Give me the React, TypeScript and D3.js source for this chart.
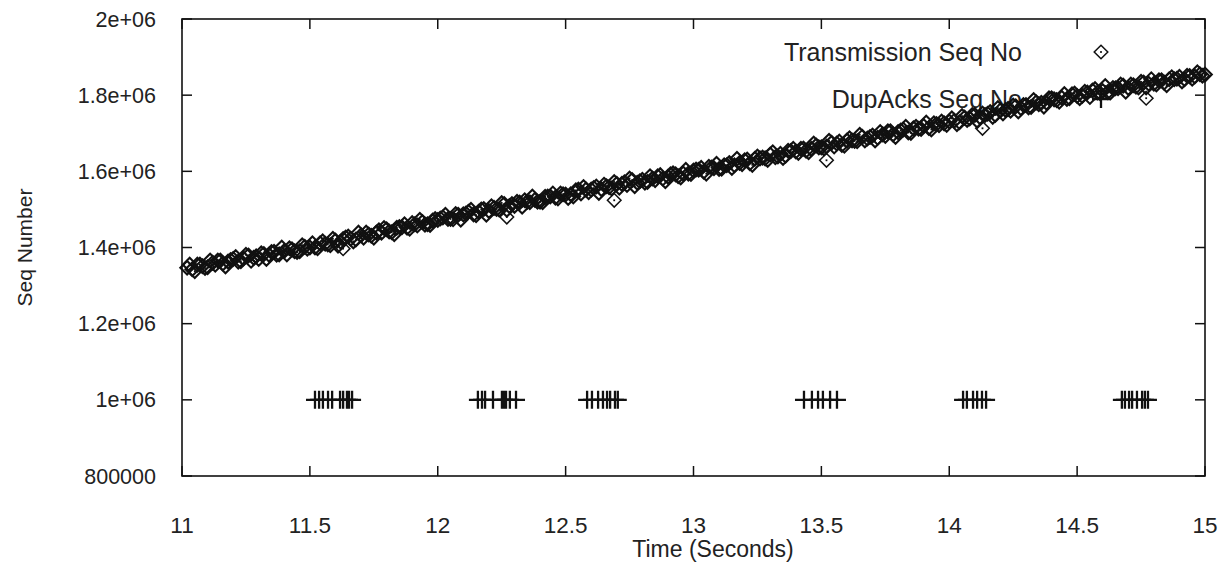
import * as d3 from 'd3';
import { useEffect, useRef } from 'react';

const WIDTH = 1224;
const HEIGHT = 563;
const INK = '#111';
const TEXT = '#222';
const FONT = 'Liberation Sans, Arial, sans-serif';

const X_TICKS = [11, 11.5, 12, 12.5, 13, 13.5, 14, 14.5, 15];
const Y_TICKS = [800000, 1000000, 1200000, 1400000, 1600000, 1800000, 2000000];

// transmitted segments, time (s) and sequence number in thousands
const TX_TIME_A = [
  11.02, 11.04, 11.06, 11.08, 11.1, 11.12, 11.14, 11.16, 11.18, 11.2, 11.22, 11.24, 11.26, 11.28, 11.3, 11.32, 11.34, 11.36, 11.38, 11.4, 11.42, 11.44, 11.46, 11.48, 11.5,
  11.52, 11.54, 11.56, 11.58, 11.6, 11.62, 11.64, 11.66, 11.68, 11.7, 11.72, 11.74, 11.76, 11.78, 11.8, 11.82, 11.84, 11.86, 11.88, 11.9, 11.92, 11.94, 11.96, 11.98, 12.0,
  12.02, 12.04, 12.06, 12.08, 12.1, 12.12, 12.14, 12.16, 12.18, 12.2, 12.22, 12.24, 12.26, 12.28, 12.3, 12.32, 12.34, 12.36, 12.38, 12.4, 12.42, 12.44, 12.46, 12.48, 12.5,
  12.52, 12.54, 12.56, 12.58, 12.6, 12.62, 12.64, 12.66, 12.68, 12.7, 12.72, 12.74, 12.76, 12.78, 12.8, 12.82, 12.84, 12.86, 12.88, 12.9, 12.92, 12.94, 12.96, 12.98, 13.0,
  13.02, 13.04, 13.06, 13.08, 13.1, 13.12, 13.14, 13.16, 13.18, 13.2, 13.22, 13.24, 13.26, 13.28, 13.3, 13.32, 13.34, 13.36, 13.38, 13.4, 13.42, 13.44, 13.46, 13.48, 13.5,
  13.52, 13.54, 13.56, 13.58, 13.6, 13.62, 13.64, 13.66, 13.68, 13.7, 13.72, 13.74, 13.76, 13.78, 13.8, 13.82, 13.84, 13.86, 13.88, 13.9, 13.92, 13.94, 13.96, 13.98, 14.0,
  14.02, 14.04, 14.06, 14.08, 14.1, 14.12, 14.14, 14.16, 14.18, 14.2, 14.22, 14.24, 14.26, 14.28, 14.3, 14.32, 14.34, 14.36, 14.38, 14.4, 14.42, 14.44, 14.46, 14.48, 14.5,
  14.52, 14.54, 14.56, 14.58, 14.6, 14.62, 14.64, 14.66, 14.68, 14.7, 14.72, 14.74, 14.76, 14.78, 14.8, 14.82, 14.84, 14.86, 14.88, 14.9, 14.92, 14.94, 14.96, 14.98, 15.0,
];
const TX_SEQ_A = [
  1347, 1343, 1355, 1351, 1348, 1360, 1366, 1358, 1363, 1370, 1363, 1371, 1379, 1373, 1370, 1383, 1381, 1389, 1382, 1391, 1398, 1390, 1390, 1402, 1400,
  1400, 1411, 1410, 1406, 1418, 1415, 1426, 1423, 1421, 1432, 1439, 1431, 1439, 1439, 1448, 1440, 1452, 1453, 1452, 1464, 1458, 1467, 1461, 1471, 1472,
  1479, 1475, 1474, 1486, 1487, 1494, 1487, 1494, 1501, 1496, 1504, 1500, 1514, 1509, 1509, 1518, 1524, 1519, 1525, 1520, 1533, 1534, 1531, 1542, 1539,
  1540, 1550, 1542, 1552, 1552, 1560, 1553, 1561, 1555, 1567, 1567, 1564, 1577, 1570, 1578, 1572, 1581, 1587, 1581, 1586, 1595, 1587, 1594, 1594, 1602,
  1604, 1599, 1612, 1608, 1606, 1616, 1622, 1616, 1622, 1629, 1621, 1633, 1634, 1634, 1644, 1637, 1646, 1641, 1653, 1652, 1659, 1654, 1659, 1668, 1663,
  1665, 1675, 1673, 1669, 1681, 1681, 1679, 1691, 1686, 1694, 1688, 1697, 1705, 1697, 1703, 1710, 1702, 1713, 1712, 1719, 1714, 1726, 1721, 1726, 1731,
  1733, 1729, 1741, 1739, 1748, 1742, 1748, 1756, 1748, 1760, 1761, 1759, 1771, 1766, 1774, 1769, 1781, 1780, 1780, 1792, 1787, 1793, 1790, 1802, 1798,
  1798, 1807, 1812, 1807, 1811, 1808, 1819, 1818, 1825, 1819, 1826, 1820, 1833, 1830, 1830, 1839, 1833, 1842, 1842, 1848, 1842, 1850, 1849, 1855, 1854,
];
const TX_TIME_B = [
  11.03, 11.05, 11.07, 11.09, 11.11, 11.13, 11.15, 11.17, 11.19, 11.21, 11.23, 11.25, 11.27, 11.29, 11.31, 11.33, 11.35, 11.37, 11.39, 11.41, 11.43, 11.45, 11.47, 11.49, 11.51,
  11.53, 11.55, 11.57, 11.59, 11.61, 11.63, 11.65, 11.67, 11.69, 11.71, 11.73, 11.75, 11.77, 11.79, 11.81, 11.83, 11.85, 11.87, 11.89, 11.91, 11.93, 11.95, 11.97, 11.99, 12.01,
  12.03, 12.05, 12.07, 12.09, 12.11, 12.13, 12.15, 12.17, 12.19, 12.21, 12.23, 12.25, 12.27, 12.29, 12.31, 12.33, 12.35, 12.37, 12.39, 12.41, 12.43, 12.45, 12.47, 12.49, 12.51,
  12.53, 12.55, 12.57, 12.59, 12.61, 12.63, 12.65, 12.67, 12.69, 12.71, 12.73, 12.75, 12.77, 12.79, 12.81, 12.83, 12.85, 12.87, 12.89, 12.91, 12.93, 12.95, 12.97, 12.99, 13.01,
  13.03, 13.05, 13.07, 13.09, 13.11, 13.13, 13.15, 13.17, 13.19, 13.21, 13.23, 13.25, 13.27, 13.29, 13.31, 13.33, 13.35, 13.37, 13.39, 13.41, 13.43, 13.45, 13.47, 13.49, 13.51,
  13.53, 13.55, 13.57, 13.59, 13.61, 13.63, 13.65, 13.67, 13.69, 13.71, 13.73, 13.75, 13.77, 13.79, 13.81, 13.83, 13.85, 13.87, 13.89, 13.91, 13.93, 13.95, 13.97, 13.99, 14.01,
  14.03, 14.05, 14.07, 14.09, 14.11, 14.13, 14.15, 14.17, 14.19, 14.21, 14.23, 14.25, 14.27, 14.29, 14.31, 14.33, 14.35, 14.37, 14.39, 14.41, 14.43, 14.45, 14.47, 14.49, 14.51,
  14.53, 14.55, 14.57, 14.59, 14.61, 14.63, 14.65, 14.67, 14.69, 14.71, 14.73, 14.75, 14.77, 14.79, 14.81, 14.83, 14.85, 14.87, 14.89, 14.91, 14.93, 14.95, 14.97, 14.99,
];
const TX_SEQ_B = [
  1355, 1338, 1355, 1346, 1366, 1355, 1366, 1350, 1367, 1375, 1364, 1381, 1365, 1377, 1385, 1370, 1388, 1381, 1400, 1382, 1395, 1388, 1406, 1397, 1411,
  1398, 1416, 1408, 1423, 1405, 1422, 1429, 1416, 1439, 1426, 1434, 1426, 1445, 1451, 1442, 1435, 1454, 1461, 1449, 1461, 1473, 1460, 1459, 1475, 1476,
  1486, 1475, 1488, 1473, 1489, 1499, 1485, 1500, 1486, 1508, 1501, 1517, 1499, 1514, 1520, 1507, 1520, 1534, 1520, 1519, 1534, 1542, 1529, 1540, 1530,
  1534, 1552, 1559, 1545, 1556, 1543, 1565, 1558, 1572, 1557, 1571, 1581, 1561, 1574, 1570, 1587, 1577, 1590, 1574, 1592, 1592, 1584, 1604, 1593, 1605,
  1609, 1594, 1610, 1620, 1607, 1616, 1609, 1633, 1619, 1631, 1617, 1639, 1636, 1630, 1650, 1639, 1635, 1654, 1659, 1648, 1660, 1650, 1673, 1663, 1660,
  1680, 1665, 1678, 1667, 1687, 1680, 1696, 1681, 1690, 1681, 1703, 1693, 1705, 1690, 1707, 1717, 1701, 1717, 1711, 1728, 1710, 1724, 1731, 1722, 1739,
  1724, 1745, 1735, 1748, 1732, 1752, 1751, 1743, 1766, 1752, 1764, 1773, 1757, 1774, 1768, 1787, 1776, 1770, 1792, 1789, 1783, 1803, 1792, 1804, 1792,
  1809, 1795, 1816, 1805, 1824, 1807, 1818, 1828, 1809, 1828, 1822, 1835, 1820, 1842, 1828, 1839, 1826, 1847, 1843, 1836, 1851, 1843, 1860, 1851,
];
// retransmitted segments sitting below the main band
const RETX_TIME = [11.63, 12.27, 12.69, 13.52, 14.13, 14.77];
const RETX_SEQ = [1397, 1480, 1524, 1629, 1713, 1792];

// duplicate acks, all plotted at 1e6
const DUPACK_TIME = [
  11.52, 11.536, 11.551, 11.571, 11.587, 11.618, 11.63, 11.645, 11.653, 11.665,
  12.157, 12.173, 12.185, 12.216, 12.251, 12.259, 12.267, 12.282, 12.306,
  12.584, 12.603, 12.627, 12.646, 12.662, 12.674, 12.693, 12.704,
  13.432, 13.463, 13.487, 13.506, 13.534, 13.561,
  14.054, 14.069, 14.093, 14.109, 14.128, 14.144,
  14.675, 14.687, 14.703, 14.715, 14.734, 14.754, 14.765, 14.777,
];
const DUPACK_SEQ = 1000000;

const LEGEND = ['Transmission Seq No', 'DupAcks Seq No'];

function diamond(g, cx, cy, sw = 2.1) {
  const r = 6.8;
  g.append('path')
    .attr('d', `M${cx},${cy - r}L${cx + r},${cy}L${cx},${cy + r}L${cx - r},${cy}Z`)
    .attr('fill', 'none')
    .attr('stroke', INK)
    .attr('stroke-width', sw);
  g.append('rect')
    .attr('x', cx - 0.9)
    .attr('y', cy - 0.9)
    .attr('width', 1.8)
    .attr('height', 1.8)
    .attr('fill', INK);
}

function plus(g, cx, cy) {
  const r = 9;
  g.append('path')
    .attr('d', `M${cx - r},${cy}H${cx + r}M${cx},${cy - r}V${cy + r}`)
    .attr('stroke', INK)
    .attr('stroke-width', 2.3);
}

function yLabel(v) {
  if (v < 1000000) return String(v);
  return d3.format('.1e')(v).replace('.0e', 'e').replace('e+6', 'e+06');
}

export default function App() {
  const ref = useRef(null);

  useEffect(() => {
    const svg = d3.select(ref.current);
    svg.selectAll('*').remove();

    const margin = { top: 19, right: 19, bottom: 87, left: 182 };
    const x = d3.scaleLinear().domain([11, 15]).range([margin.left, WIDTH - margin.right]);
    const y = d3.scaleLinear().domain([800000, 2000000]).range([HEIGHT - margin.bottom, margin.top]);
    const [x0, x1] = x.range();
    const [y0, y1] = y.range();

    svg.append('rect').attr('width', WIDTH).attr('height', HEIGHT).attr('fill', '#fff');

    // ticks on all four sides, pointing inward
    const ticks = svg.append('g').attr('stroke', INK).attr('stroke-width', 1.5);
    X_TICKS.forEach((t) => {
      ticks.append('line').attr('x1', x(t)).attr('x2', x(t)).attr('y1', y0).attr('y2', y0 - 10);
      ticks.append('line').attr('x1', x(t)).attr('x2', x(t)).attr('y1', y1).attr('y2', y1 + 10);
    });
    Y_TICKS.forEach((v) => {
      ticks.append('line').attr('x1', x0).attr('x2', x0 + 10).attr('y1', y(v)).attr('y2', y(v));
      ticks.append('line').attr('x1', x1).attr('x2', x1 - 10).attr('y1', y(v)).attr('y2', y(v));
    });

    const labels = svg.append('g').style('font-family', FONT).attr('fill', TEXT);
    X_TICKS.forEach((t) => {
      labels.append('text')
        .attr('x', x(t))
        .attr('y', 525)
        .attr('dy', '0.35em')
        .attr('text-anchor', 'middle')
        .style('font-size', '22.5px')
        .text(String(t));
    });
    Y_TICKS.forEach((v) => {
      labels.append('text')
        .attr('x', 156)
        .attr('y', y(v))
        .attr('dy', '0.35em')
        .attr('text-anchor', 'end')
        .style('font-size', '21.5px')
        .text(yLabel(v));
    });

    labels.append('text')
      .attr('x', 713)
      .attr('y', 549)
      .attr('dy', '0.35em')
      .attr('text-anchor', 'middle')
      .style('font-size', '23px')
      .text('Time (Seconds)');
    labels.append('text')
      .attr('transform', `translate(25,${(y0 + y1) / 2}) rotate(-90)`)
      .attr('dy', '0.35em')
      .attr('text-anchor', 'middle')
      .style('font-size', '21px')
      .text('Seq Number');

    // legend
    const keyX = 1101;
    const keyY = [52, 99];
    LEGEND.forEach((name, i) => {
      labels.append('text')
        .attr('x', 1022)
        .attr('y', keyY[i])
        .attr('dy', '0.35em')
        .attr('text-anchor', 'end')
        .style('font-size', '25px')
        .text(name);
    });
    const key = svg.append('g');
    diamond(key, keyX, keyY[0], 1.5);
    plus(key, keyX, keyY[1]);

    // data
    const tx = svg.append('g');
    TX_TIME_A.forEach((t, i) => diamond(tx, x(t), y(TX_SEQ_A[i] * 1000)));
    TX_TIME_B.forEach((t, i) => diamond(tx, x(t), y(TX_SEQ_B[i] * 1000)));
    RETX_TIME.forEach((t, i) => diamond(tx, x(t), y(RETX_SEQ[i] * 1000), 1.5));
    const dup = svg.append('g');
    DUPACK_TIME.forEach((t) => plus(dup, x(t), y(DUPACK_SEQ)));

    // frame
    svg.append('rect')
      .attr('x', x0)
      .attr('y', y1)
      .attr('width', x1 - x0)
      .attr('height', y0 - y1)
      .attr('fill', 'none')
      .attr('stroke', INK)
      .attr('stroke-width', 1.6);
  }, []);

  return (
    <svg
      ref={ref}
      width={WIDTH}
      height={HEIGHT}
      style={{ position: 'absolute', left: 0, top: 0, display: 'block' }}
    />
  );
}
